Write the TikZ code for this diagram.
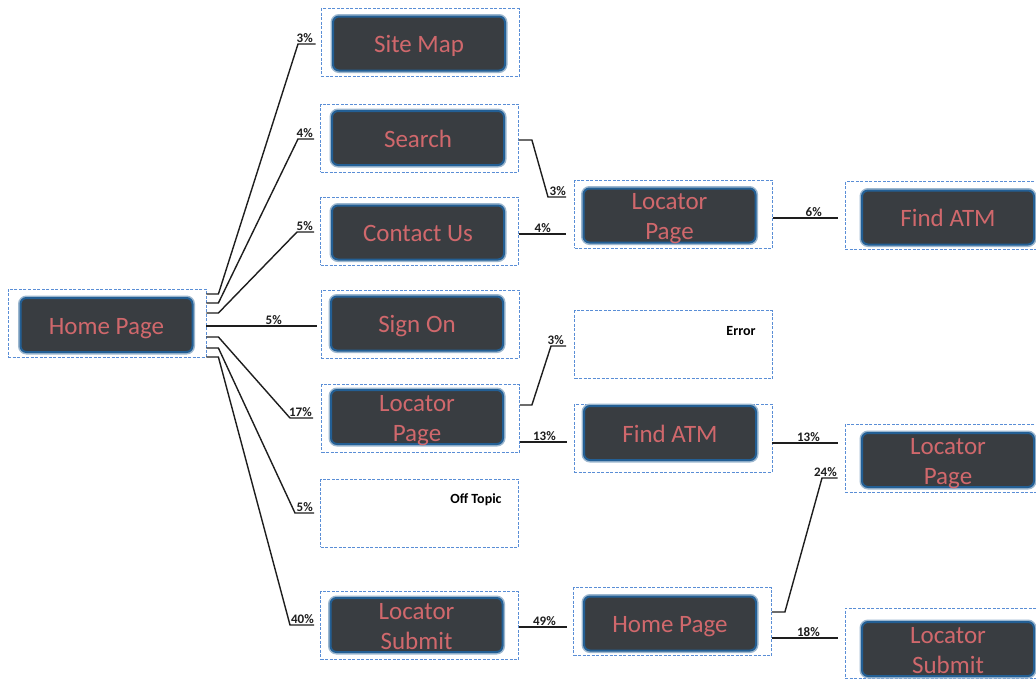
\documentclass[tikz,border=0pt]{standalone}
\usepackage{fontspec}
\setmainfont{Carlito}
\usetikzlibrary{calc}
\definecolor{boxfill}{HTML}{393D41}
\definecolor{boxedge}{HTML}{235F94}
\definecolor{boxtext}{HTML}{D0686C}
\definecolor{frameblue}{HTML}{5A8ED6}
\definecolor{linecol}{HTML}{1E1E1E}
\newcommand\pgtext[1]{\raisebox{-9.5pt}[0pt][0pt]{\begin{tabular}{@{}c@{}}#1\end{tabular}}}
\begin{document}
\begin{tikzpicture}[x=1pt,y=-1pt,
 frame/.style={draw=frameblue, dash pattern=on 3pt off 1.5pt, line width=0.8pt, minimum width=198pt, minimum height=68pt, inner sep=0pt},
 pagebox/.style={fill=boxfill, draw=boxedge, line width=2pt, rounded corners=6pt,
   preaction={draw=boxedge!45, line width=5pt, rounded corners=6pt},
   minimum width=172pt, minimum height=54pt, inner sep=0pt, text=boxtext,
   font=\fontsize{25}{30}\selectfont},
 pct/.style={font=\bfseries\fontsize{13}{15}\selectfont, inner sep=0pt, anchor=base east, text=linecol},
 conn/.style={draw=linecol, line width=1.4pt},
 note/.style={font=\bfseries\fontsize{14}{16}\selectfont, inner sep=0pt, anchor=base}
]
\useasboundingbox[fill=white] (0,0) rectangle (1036,678);

% frames and page boxes
\node[frame] (hpf) at (107,323) {};
\node[pagebox] (hp) at (106.5,325) {\pgtext{Home Page}};

\node[frame] (smf) at (420,42.5) {};
\node[pagebox] (sm) at (419,43.5) {\pgtext{Site Map}};

\node[frame] (sef) at (419.5,138) {};
\node[pagebox] (se) at (418,138) {\pgtext{Search}};

\node[frame] (cuf) at (419.5,231) {};
\node[pagebox] (cu) at (418,232.5) {\pgtext{Contact Us}};

\node[frame] (sof) at (420,324) {};
\node[pagebox] (so) at (417,323.5) {\pgtext{Sign On}};

\node[frame] (lp1f) at (420.5,418.5) {};
\node[pagebox] (lp1) at (417,417) {\pgtext{Locator\\Page}};

\node[frame] (otf) at (419.5,513) {};
\node[note] (ot) at (476,503) {Off Topic};

\node[frame] (ls1f) at (419.5,625.5) {};
\node[pagebox] (ls1) at (416.5,625) {\pgtext{Locator\\Submit}};

\node[frame] (lp2f) at (673.5,214) {};
\node[pagebox] (lp2) at (669.5,215.5) {\pgtext{Locator\\Page}};

\node[frame, minimum width=200pt] (fa1f) at (945,215.5) {};
\node[pagebox] (fa1) at (948,217.5) {\pgtext{Find ATM}};

\node[frame] (erf) at (673.5,344.5) {};
\node[note] (er) at (741,335) {Error};

\node[frame] (fa2f) at (673,438) {};
\node[pagebox] (fa2) at (670,433) {\pgtext{Find ATM}};

\node[frame, minimum width=200pt] (lp3f) at (945,458) {};
\node[pagebox] (lp3) at (948,460) {\pgtext{Locator\\Page}};

\node[frame] (hp2f) at (672.5,621.5) {};
\node[pagebox] (hp2) at (670,623.5) {\pgtext{Home Page}};

\node[frame, minimum width=200pt, minimum height=70pt] (ls2f) at (945,643) {};
\node[pagebox] (ls2) at (948,649) {\pgtext{Locator\\Submit}};

% fan from home page
\coordinate (b1) at (298,44);
\coordinate (b2) at (298,139);
\coordinate (b3) at (297,232);
\coordinate (b5) at (290,418);
\coordinate (b6) at (295,513);
\coordinate (b7) at (290,625);
\draw[conn] ($(hpf.east)+(0,-29)$) -- ++(12,0) -- (b1) -- ($(smf.west|-b1)+(-5,0)$);
\draw[conn] ($(hpf.east)+(0,-20)$) -- ++(12,0) -- (b2) -- ($(sef.west|-b2)+(-6,0)$);
\draw[conn] ($(hpf.east)+(0,-10)$) -- ++(12,0) -- (b3) -- ($(cuf.west|-b3)+(-6,0)$);
\draw[conn] ($(hpf.east)+(0,3)$) -- ($(sof.west|-hpf.east)+(-4,3)$);
\draw[conn] ($(hpf.east)+(0,14)$) -- ++(12,0) -- (b5) -- ($(lp1f.west|-b5)+(-8,0)$);
\draw[conn] ($(hpf.east)+(0,25)$) -- ++(12,0) -- (b6) -- ($(otf.west|-b6)+(-6,0)$);
\draw[conn] ($(hpf.east)+(0,34)$) -- ++(12,0) -- (b7) -- ($(ls1f.west|-b7)+(-6,0)$);

\node[pct] (p1) at (313,42.5) {3\%};
\node[pct] (p2) at (313,137.5) {4\%};
\node[pct] (p3) at (313,230.5) {5\%};
\node[pct] (p4) at (282,324.5) {5\%};
\node[pct] (p5) at (312,416.5) {17\%};
\node[pct] (p6) at (313,511.5) {5\%};
\node[pct] (p7) at (314,623.5) {40\%};

% middle and right connectors
\coordinate (c1) at (548,197);
\coordinate (c2) at (551,346);
\coordinate (c3) at (822,478);
\draw[conn] ($(sef.east)+(0,2)$) -- ++(13,0) -- (c1) -- ($(lp2f.west|-c1)+(-8,0)$);
\draw[conn] ($(cuf.east)+(0,3)$) -- ($(lp2f.west|-cuf.east)+(-8,3)$);
\draw[conn] ($(lp2f.east)+(0,4)$) -- ($(fa1f.west|-lp2f.east)+(-7,4)$);
\draw[conn] ($(lp1f.east)+(0,-13.5)$) -- ++(12,0) -- (c2) -- ($(erf.west|-c2)+(-8,0)$);
\draw[conn] ($(lp1f.east)+(0,23.5)$) -- ($(fa2f.west|-lp1f.east)+(-7,23.5)$);
\draw[conn] ($(fa2f.east)+(0,5)$) -- ($(lp3f.west|-fa2f.east)+(-7,5)$);
\draw[conn] ($(ls1f.east)+(0,1.5)$) -- ($(hp2f.west|-ls1f.east)+(-6,1.5)$);
\draw[conn] ($(hp2f.east)+(0,-9.5)$) -- ++(13,0) -- (c3) -- ($(lp3f.west|-c3)+(-7,0)$);
\draw[conn] ($(hp2f.east)+(0,16.5)$) -- ($(ls2f.west|-hp2f.east)+(-7,16.5)$);

\node[pct] (q1) at (566,195.5) {3\%};
\node[pct] (q2) at (551,232.5) {4\%};
\node[pct] (q3) at (822,216.5) {6\%};
\node[pct] (q4) at (564,344.5) {3\%};
\node[pct] (q5) at (556,440.5) {13\%};
\node[pct] (q6) at (820,441.5) {13\%};
\node[pct] (q7) at (556,625.5) {49\%};
\node[pct] (q8) at (837,476.5) {24\%};
\node[pct] (q9) at (820,636.5) {18\%};
\end{tikzpicture}
\end{document}
